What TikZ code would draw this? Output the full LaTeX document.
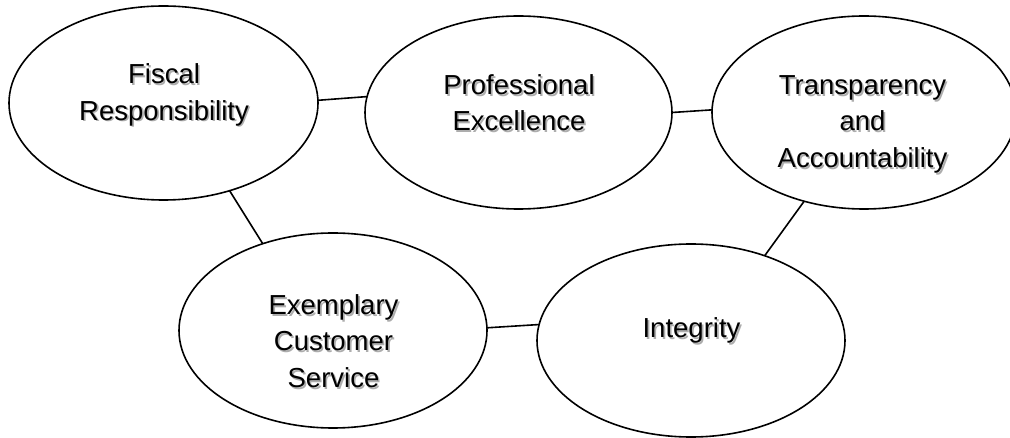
\documentclass[tikz,border=0pt]{standalone}
\usepackage{fontspec}
\setmainfont{Liberation Sans}
\usetikzlibrary{shapes.geometric}
\tikzset{
  val/.style={ellipse, draw=black, line width=1.6pt, inner sep=0pt, outer sep=0pt,
              minimum width=#1},
  txt/.style={anchor=base, inner sep=0pt, outer sep=0pt,
              font=\fontsize{27.5}{36.5}\selectfont},
  link/.style={draw=black, line width=1.6pt}
}
\newcommand\shtxt[1]{\leavevmode
  \rlap{\hspace{1.7pt}\raisebox{-1.7pt}{\color{black!32}\begin{tabular}[t]{@{}c@{}}#1\end{tabular}}}%
  \begin{tabular}[t]{@{}c@{}}#1\end{tabular}}
\begin{document}
\begin{tikzpicture}[x=1pt, y=-1pt]
  \clip (0,0) rectangle (1010,438);
  \fill[white] (0,0) rectangle (1010,438);
  % ellipses
  \node[val=309pt, minimum height=194pt] (fis) at (163.5,103) {};
  \node[val=307pt, minimum height=193pt] (pro) at (518.5,112.5) {};
  \node[val=304pt, minimum height=193pt] (tra) at (864,112.5) {};
  \node[val=308pt, minimum height=195pt] (exe) at (333,330.5) {};
  \node[val=308pt, minimum height=193pt] (int) at (691,340.5) {};
  % connectors
  \draw[link] (fis.1.5) -- (pro.174.9);
  \draw[link] (pro.0.6) -- (tra.179.4);
  \draw[link] (exe.1.7) -- (int.174.6);
  \draw[link] (fis.-53.9) -- (exe.129.1);
  \draw[link] (tra.-124.7) -- (int.49.9);
  % texts
  \node[txt] (tfis) at (164,83.7) {\shtxt{Fiscal\\Responsibility}};
  \node[txt] (tpro) at (519,94.5) {\shtxt{Professional\\Excellence}};
  \node[txt] (ttra) at (862.5,94.5) {\shtxt{Transparency\\and\\Accountability}};
  \node[txt] (texe) at (333.5,314.5) {\shtxt{Exemplary\\Customer\\Service}};
  \node[txt] (tint) at (691.5,337.5) {\shtxt{Integrity}};
\end{tikzpicture}
\end{document}
